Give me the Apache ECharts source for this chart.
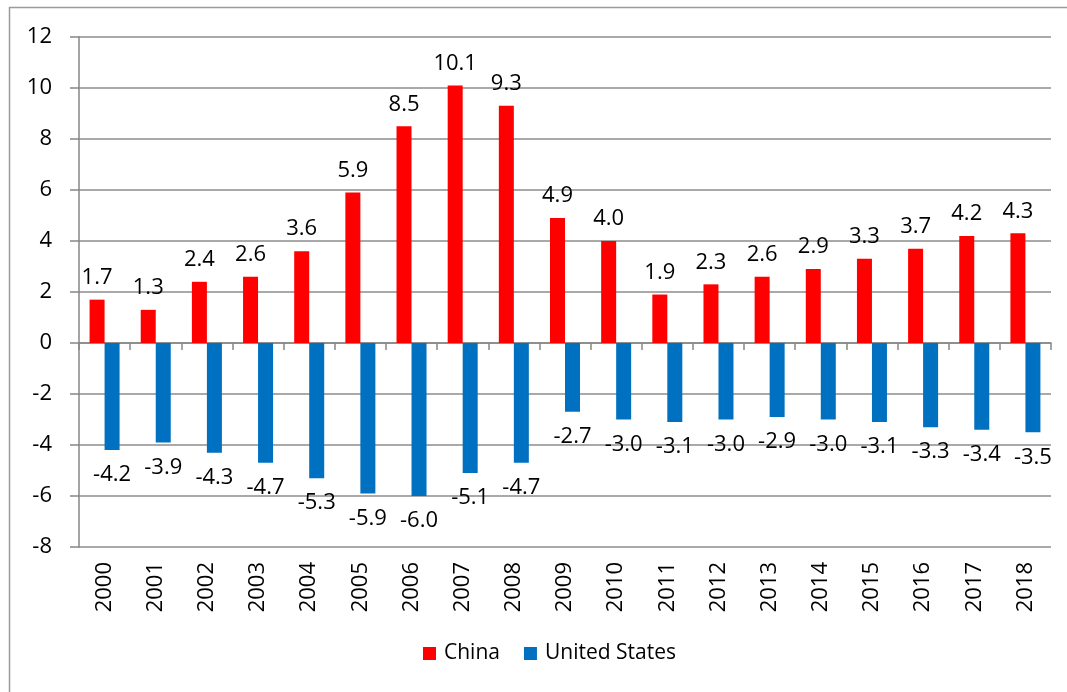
<!DOCTYPE html>
<html><head><meta charset="utf-8">
<script src="https://cdn.jsdelivr.net/npm/echarts@6/dist/echarts.min.js"></script>
<style>html,body{margin:0;padding:0;background:#fff;}#c{width:1067px;height:692px;}</style>
</head><body><div id="c"></div>
<script>
const years = ['2000','2001','2002','2003','2004','2005','2006','2007','2008','2009','2010','2011','2012','2013','2014','2015','2016','2017','2018'];
const china = [1.7,1.3,2.4,2.6,3.6,5.9,8.5,10.1,9.3,4.9,4.0,1.9,2.3,2.6,2.9,3.3,3.7,4.2,4.3];
const unitedStates = [-4.2,-3.9,-4.3,-4.7,-5.3,-5.9,-6.0,-5.1,-4.7,-2.7,-3.0,-3.1,-3.0,-2.9,-3.0,-3.1,-3.3,-3.4,-3.5];

const FONT = 'Open Sans';
const chart = echarts.init(document.getElementById('c'));
chart.setOption({
  animation: false,
  backgroundColor: '#fff',
  textStyle: {fontFamily: FONT},
  graphic: [{type: 'rect', shape: {x: 9.5, y: 7.5, width: 1200, height: 900}, style: {fill: 'none', stroke: '#9a9a9a', lineWidth: 1.5}, silent: true}],
  grid: {left: 79, right: 16, top: 37, bottom: 145},
  legend: {
    bottom: 23, left: 418, icon: 'rect', itemWidth: 13, itemHeight: 13, itemGap: 24,
    textStyle: {fontFamily: FONT, fontSize: 21, color: '#000', padding: [0,0,0,3]},
    data: ['China', 'United States']
  },
  xAxis: [{
    type: 'category', data: years,
    axisLine: {onZero: true, lineStyle: {color: '#868686', width: 1.5}},
    axisTick: {show: true, length: 7, alignWithLabel: false, lineStyle: {color: '#868686', width: 1.5}},
    axisLabel: {show: false}
  }, {
    type: 'category', data: years, position: 'bottom',
    axisLine: {show: false, onZero: false}, axisTick: {show: false},
    axisLabel: {rotate: 90, margin: 15, fontFamily: FONT, fontSize: 22, color: '#000', interval: 0}
  }],
  yAxis: {
    type: 'value', min: -8, max: 12, interval: 2,
    axisLine: {show: true, lineStyle: {color: '#868686', width: 1.5}},
    axisTick: {show: true, length: 9, lineStyle: {color: '#868686', width: 1.5}},
    axisLabel: {margin: 27, fontFamily: FONT, fontSize: 22, color: '#000'},
    splitLine: {lineStyle: {color: '#8c8c8c', width: 1.5}}
  },
  series: [{
    name: 'China', type: 'bar', data: china, barWidth: 15, barGap: '0%',
    itemStyle: {color: '#ff0000'},
    label: {show: true, position: 'top', distance: 11, fontFamily: FONT, fontSize: 22, color: '#000',
      formatter: p => p.value.toFixed(1)}
  }, {
    name: 'United States', type: 'bar', data: unitedStates, barWidth: 15, barGap: '0%',
    itemStyle: {color: '#0070c0'},
    label: {show: true, position: 'bottom', distance: 14, fontFamily: FONT, fontSize: 22, color: '#000',
      formatter: p => p.value.toFixed(1)}
  }]
});
</script></body></html>
